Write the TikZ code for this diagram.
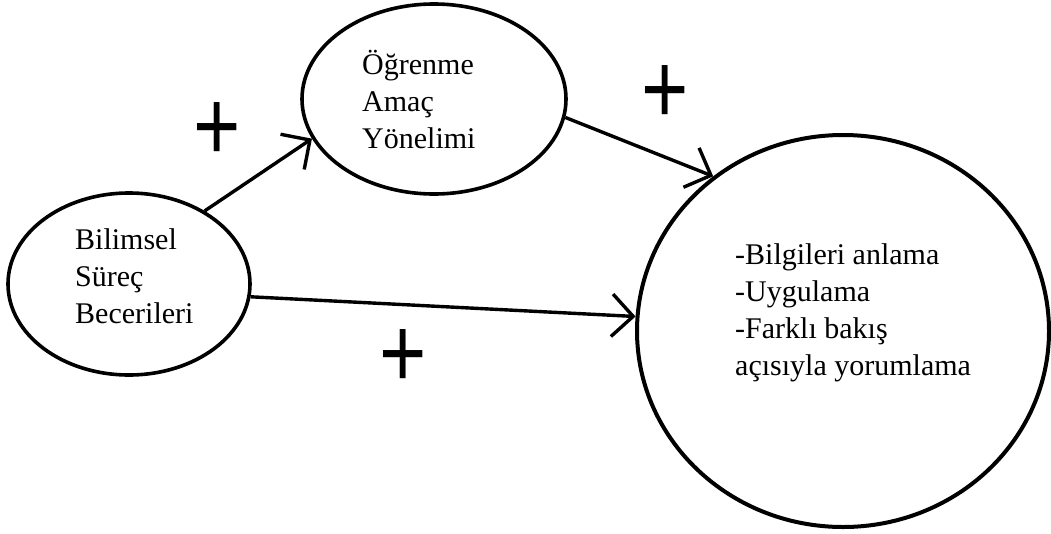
\documentclass[tikz,border=0pt]{standalone}
\usepackage{fontspec}
\setmainfont{Liberation Serif}
\newfontfamily\plusfont{Liberation Sans}
\usetikzlibrary{arrows.meta,shapes.geometric}
\begin{document}
\begin{tikzpicture}[x=1pt,y=-1pt,
  oval/.style={ellipse, draw, line width=3.6pt, inner sep=0pt},
  txt/.style={align=left, anchor=base west, inner sep=0pt,
    font=\fontsize{30}{37}\selectfont},
  link/.style={line width=3.4pt, -{Straight Barb[angle=90:30pt]}},
  sign/.style={anchor=base, inner sep=0pt,
    font=\plusfont\fontsize{81}{81}\selectfont}]
\useasboundingbox (0,0) rectangle (1051,533);

% the three constructs
\node[oval, minimum width=242pt, minimum height=182pt] (bsb) at (129,284) {};
\node[oval, minimum width=264pt, minimum height=190pt] (oay) at (434,99) {};
\node[oval, line width=4pt, minimum width=412pt, minimum height=392pt] (cikti) at (843,331) {};

% their labels (anchored at the baseline of the last line)
\node[txt] (t1) at (75,323) {Bilimsel\\Süreç\\Becerileri};
\node[txt] (t2) at (362,148) {Öğrenme\\Amaç\\Yönelimi};
\node[txt] (t3) at (735,375) {-Bilgileri anlama\\-Uygulama\\-Farklı bakış\\açısıyla yorumlama};

% paths
\draw[link] (bsb.44) -- (oay.198);
\draw[link] (oay.352) -- (cikti.130);
\draw[link] (bsb.354) -- (cikti.176);

% signs of the paths
\node[sign] (p1) at (217,160) {\scalebox{1}[1.24]{+}};
\node[sign] (p2) at (665,123) {\scalebox{1}[1.24]{+}};
\node[sign] (p3) at (403,387) {\scalebox{1}[1.24]{+}};
\end{tikzpicture}
\end{document}
